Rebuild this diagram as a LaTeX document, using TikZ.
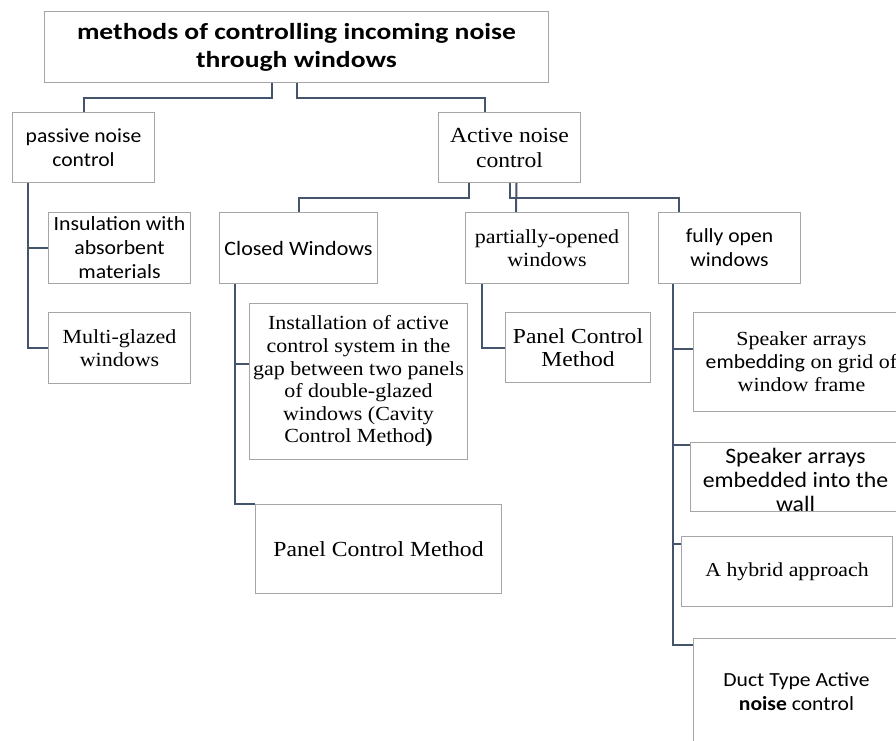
\documentclass[tikz,border=0pt]{standalone}
\usepackage{fontspec}
\setmainfont{Liberation Serif}[FakeStretch=1.1]
\newfontfamily\sansf{Carlito}[FakeStretch=1.08]
\newfontfamily\titlef{Carlito}[FakeStretch=1.2]
\definecolor{conncol}{HTML}{44546A}
\definecolor{boxcol}{HTML}{A6A6A6}
\begin{document}
\begin{tikzpicture}[x=1pt,y=-1pt,
  box/.style={draw=boxcol, line width=1pt, fill=white, anchor=north west, inner sep=0pt, align=center},
  conn/.style={draw=conncol, line width=2pt},
  serifs/.style={font={\fontsize{#1}{23}\selectfont}},
  sanss/.style={font={\sansf\fontsize{#1}{24}\selectfont}},
  lbl/.style={align=center, inner sep=0pt}
]
\useasboundingbox (0,0) rectangle (896,740);
\clip (0,0) rectangle (896,740);

\node[box, minimum width=504pt, minimum height=71pt, font={\titlef\bfseries\fontsize{23}{28}\selectfont}] (title) at (44,11) {methods of controlling incoming noise\\through windows};

\node[box, sanss=20, minimum width=142pt, minimum height=70pt] (passive) at (12,112) {passive noise\\control};
\node[box, font={\fontsize{21.5}{25}\selectfont}, minimum width=142pt, minimum height=70pt] (active) at (438,112) {Active noise\\control};

\node[box, sanss=20.2, minimum width=142pt, minimum height=71pt] (insul) at (48,212) {Insulation with\\absorbent\\materials};
\node[box, serifs=20, minimum width=142pt, minimum height=71pt] (multi) at (48,312) {Multi-glazed\\windows};

\node[box, sanss=20.4, minimum width=158pt, minimum height=71pt] (closed) at (219,212) {Closed Windows};
\node[box, serifs=20, minimum width=163pt, minimum height=71pt] (partial) at (465,212) {partially-opened\\windows};
\node[box, sanss=20, minimum width=142pt, minimum height=71pt] (fully) at (658,212) {fully open\\windows};

\node[box, font={\fontsize{20}{22.6}\selectfont}, minimum width=218pt, minimum height=156pt] (install) at (249,303) {Installation of active\\control system in the\\gap between two panels\\of double-glazed\\windows (Cavity\\Control Method\textbf{)}};
\node[box, serifs=21.4, minimum width=145pt, minimum height=70pt] (panelA) at (505,312) {Panel Control\\Method};
\node[box, serifs=21.5, minimum width=246pt, minimum height=89pt] (panelB) at (255,504) {Panel Control Method};

\node[box, serifs=20, minimum width=216pt, minimum height=99pt] (spk1) at (693,312) {Speaker arrays\\{\sansf embedding} on grid of\\window frame};
\node[box, minimum width=210pt, minimum height=69pt] (spk2) at (690,442) {};
\node[lbl, sanss=22] (spk2t) at ([yshift=-3pt]spk2.center) {Speaker arrays\\embedded into the\\wall};
\node[box, serifs=19.8, minimum width=211pt, minimum height=70pt] (hybrid) at (681,536) {A hybrid approach};
\node[box, sanss=20, minimum width=206pt, minimum height=110pt] (duct) at (693,638) {};
\node[lbl, sanss=20] (ductt) at ([yshift=-3pt]duct.north) [anchor=north, yshift=-31pt] {Duct Type Active\\\textbf{noise} control};

% connectors
\draw[conn] ([xshift=-25pt]title.south) -- ++(0,15) -| (passive.north);
\draw[conn] (title.south) -- ++(0,15) -| ([xshift=-25pt]active.north);

\draw[conn] ([xshift=-56pt]passive.south) |- (insul.west);
\draw[conn] ([xshift=-56pt]passive.south) |- (multi.west);

\draw[conn] ([xshift=-41pt]active.south) -- ++(0,15) -| (closed.north);
\draw[conn] (active.south) -- ++(0,15) -| ([xshift=21pt]fully.north west);
\draw[conn] ([xshift=7pt]active.south) -- ([xshift=51pt]partial.north west);

\draw[conn] ([xshift=16pt]closed.south west) |- ([yshift=18pt]install.west);
\draw[conn] ([xshift=16pt]closed.south west) |- (panelB.north west);

\draw[conn] ([xshift=17pt]partial.south west) |- (panelA.west);

\draw[conn] ([xshift=15pt]fully.south west) |- ([yshift=13.5pt]spk1.west);
\draw[conn] ([xshift=15pt]fully.south west) |- ([yshift=-3pt]spk2.north west);
\draw[conn] ([xshift=15pt]fully.south west) |- ([yshift=-8pt]hybrid.north west);
\draw[conn] ([xshift=15pt]fully.south west) |- ([yshift=-7pt]duct.north west);
\end{tikzpicture}
\end{document}
